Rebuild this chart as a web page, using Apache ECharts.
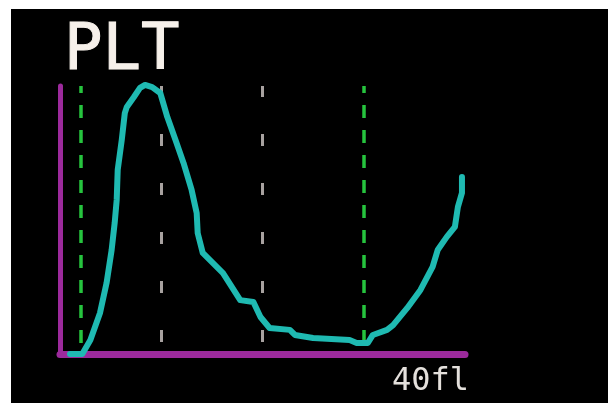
<!DOCTYPE html>
<html lang="en">
<style>
  html, body {
    margin: 0;
    padding: 0;
    background: #ffffff;
  }

  #container {
    position: absolute;
    left: 11px;
    top: 9px;
    width: 597px;
    height: 394px;
    background: #000000;
  }
</style>

<head>
  <meta charset="UTF-8">
  <script src="https://cdn.jsdelivr.net/npm/echarts@6/dist/echarts.min.js"></script>
</head>

<body>
  <div id="container"></div>
  <script>
    // platelet volume histogram, x in fL, y in % of peak
    var sizeFl = [0.99, 2.2, 3.0, 3.95, 4.6, 5.1, 5.4, 5.6, 5.7, 6.1, 6.4, 6.6, 7.3, 7.9, 8.4, 9.1, 9.9,
      10.6, 11.4, 12.2, 13.0, 13.5, 13.6, 14.1, 16.1, 17.8, 19.1, 19.8, 20.7, 22.7, 23.2, 25.0,
      28.6, 29.3, 30.4, 30.9, 32.3, 32.9, 34.3, 35.6, 36.8, 37.3, 38.2, 39.0, 39.3, 39.7, 39.7];
    var countPct = [0, 0, 5.2, 15.3, 26.5, 38.8, 48.9, 57.5, 68.7, 79.9, 89.9, 92.2, 95.9, 99.3, 100.4, 99.6, 97.4,
      88.4, 79.9, 71.3, 61.2, 52.6, 45.1, 37.7, 30.2, 20.1, 19.4, 13.8, 9.7, 9.0, 7.1, 6.0,
      5.2, 4.1, 4.1, 7.1, 9.0, 10.8, 17.2, 23.9, 32.5, 38.8, 43.7, 47.4, 54.9, 60.1, 66.0];
    var discriminators = [2, 30];   // green
    var gridMarks = [10, 20];       // grey

    var myChart = echarts.init(document.getElementById('container'));

    var points = [];
    for (var i = 0; i < sizeFl.length; i++) {
      points.push([sizeFl[i], countPct[i]]);
    }

    var marks = [];
    discriminators.forEach(function (v) {
      marks.push({
        xAxis: v,
        lineStyle: { color: '#26c43e', width: 3.5, type: [13, 12], dashOffset: 14 }
      });
    });
    gridMarks.forEach(function (v) {
      marks.push({
        xAxis: v,
        lineStyle: { color: '#a8a2a0', width: 3, type: [12, 37], dashOffset: 37 }
      });
    });

    var option = {
      animation: false,
      title: [
        {
          text: 'PLT',
          left: 48,
          top: 6,
          textStyle: {
            fontFamily: 'DejaVu Sans Mono',
            fontSize: 64,
            fontWeight: 'normal',
            color: '#f6f0ea',
            textBorderColor: '#f6f0ea',
            textBorderWidth: 1
          }
        },
        {
          text: '40fl',
          left: 376,
          top: 352,
          textStyle: {
            fontFamily: 'DejaVu Sans Mono',
            fontSize: 32,
            fontWeight: 'normal',
            color: '#e4e0dc'
          }
        }
      ],
      grid: {
        left: 49,
        top: 77,
        width: 405,
        height: 268
      },
      xAxis: {
        type: 'value',
        min: 0,
        max: 40,
        axisLine: { lineStyle: { color: '#9c2a9c', width: 7 } },
        axisTick: { show: false },
        axisLabel: { show: false },
        splitLine: { show: false }
      },
      yAxis: {
        type: 'value',
        min: 0,
        max: 100,
        axisLine: { show: true, lineStyle: { color: '#9c2a9c', width: 5 } },
        axisTick: { show: false },
        axisLabel: { show: false },
        splitLine: { show: false }
      },
      series: [
        {
          type: 'line',
          data: points,
          symbol: 'none',
          clip: false,
          z: 3,
          lineStyle: { color: '#1fbab2', width: 6, join: 'round', cap: 'round' },
          markLine: {
            silent: true,
            symbol: 'none',
            label: { show: false },
            z: 2,
            data: marks
          }
        }
      ]
    };

    myChart.setOption(option);
  </script>
</body>

</html>
